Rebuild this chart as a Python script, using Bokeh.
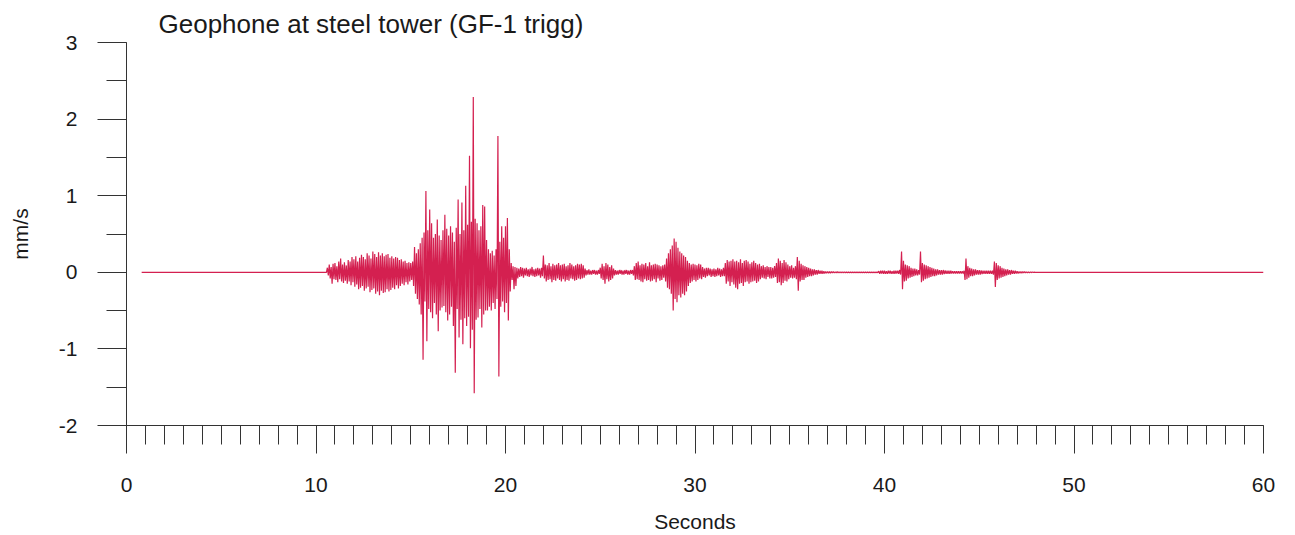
from bokeh.plotting import figure
from bokeh.models import Range1d, SingleIntervalTicker, PrintfTickFormatter
from bokeh.embed import file_html
from bokeh.resources import INLINE

# ---- data (velocity in mm/s) ----
title_text = "Geophone at steel tower (GF-1 trigg)"
x_label = "Seconds"
y_label = "mm/s"

record_start = 0.8     # s, first sample of the record
record_end = 60.0      # s, last sample of the record
trace_t0 = 10.0        # s, start of the detailed samples below
trace_dt = 0.05        # s, spacing of the detailed samples

# one row per second, 20 samples each
onset_10_15 = [
    [0, 0, 0, 0, 0, 0, 0, 0, 0, 0, 0, 0, 0.06, -0.04, 0.10, -0.08, 0.07, -0.15, 0.11, -0.09],
    [0.12, -0.10, 0.08, -0.13, 0.14, -0.09, 0.18, -0.12, 0.10, -0.14, 0.13, -0.11, 0.09, -0.15, 0.16, -0.12, 0.14, -0.17, 0.20, -0.13],
    [0.17, -0.19, 0.21, -0.16, 0.14, -0.22, 0.19, -0.20, 0.23, -0.18, 0.20, -0.24, 0.17, -0.21, 0.25, -0.19, 0.22, -0.26, 0.18, -0.23],
    [0.27, -0.21, 0.24, -0.28, 0.20, -0.25, 0.26, -0.30, 0.22, -0.24, 0.25, -0.27, 0.21, -0.26, 0.23, -0.22, 0.24, -0.25, 0.19, -0.23],
    [0.21, -0.20, 0.18, -0.22, 0.20, -0.17, 0.19, -0.21, 0.16, -0.18, 0.17, -0.15, 0.14, -0.17, 0.15, -0.13, 0.12, -0.16, 0.13, -0.12],
]
burst_15_20 = [
    [0.12, -0.10, 0.14, -0.18, 0.33, -0.28, 0.25, -0.35, 0.30, -0.42, 0.38, -0.55, 0.45, -1.14, 0.52, -0.38, 1.06, -0.90, 0.55, -0.48],
    [0.82, -0.52, 0.64, -0.60, 0.45, -0.40, 0.50, -0.55, 0.69, -0.77, 0.48, -0.50, 0.42, -0.46, 0.55, -0.44, 0.75, -0.52, 0.57, -0.63],
    [0.48, -0.55, 0.60, -0.45, 0.52, -0.70, 0.40, -1.31, 0.58, -0.48, 0.95, -0.85, 0.50, -0.62, 0.91, -0.94, 0.55, -0.60, 1.13, -0.70],
    [0.62, -0.58, 1.52, -0.99, 0.66, -0.75, 2.29, -1.58, 0.70, -0.62, 0.64, -0.59, 0.55, -0.48, 0.60, -0.72, 0.88, -0.55, 0.86, -0.50],
    [0.42, -0.50, 0.30, -0.45, 0.25, -0.50, 0.28, -0.40, 0.22, -0.48, 0.30, -0.35, 1.78, -1.36, 0.40, -0.45, 0.60, -0.38, 0.45, -0.52],
]
coda_20_30 = [
    [0.60, -0.40, 0.71, -0.63, 0.30, -0.25, 0.12, -0.10, 0.08, -0.22, 0.07, -0.18, 0.06, -0.08, 0.05, -0.06, 0.07, -0.05, 0.06, -0.07],
    [0.05, -0.04, 0.06, -0.05, 0.04, -0.06, 0.05, -0.04, 0.07, -0.05, 0.04, -0.06, 0.05, -0.05, 0.06, -0.04, 0.05, -0.07, 0.06, -0.05],
    [0.22, -0.08, 0.10, -0.12, 0.09, -0.10, 0.12, -0.09, 0.08, -0.13, 0.11, -0.10, 0.09, -0.11, 0.10, -0.08, 0.12, -0.10, 0.09, -0.12],
    [0.10, -0.09, 0.11, -0.12, 0.08, -0.10, 0.09, -0.11, 0.12, -0.08, 0.10, -0.09, 0.08, -0.11, 0.09, -0.10, 0.11, -0.08, 0.10, -0.09],
    [0.11, -0.08, 0.09, -0.07, 0.05, -0.04, 0.03, -0.03, 0.04, -0.03, 0.02, -0.03, 0.03, -0.02, 0.03, -0.03, 0.02, -0.03, 0.03, -0.02],
    [0.06, -0.08, 0.11, -0.10, 0.08, -0.15, 0.12, -0.09, 0.10, -0.12, 0.07, -0.10, 0.09, -0.08, 0.05, -0.04, 0.03, -0.03, 0.02, -0.03],
    [0.03, -0.02, 0.03, -0.03, 0.02, -0.03, 0.03, -0.02, 0.03, -0.03, 0.02, -0.03, 0.03, -0.02, 0.03, -0.04, 0.08, -0.10, 0.12, -0.09],
    [0.14, -0.10, 0.09, -0.12, 0.11, -0.13, 0.10, -0.09, 0.12, -0.11, 0.08, -0.10, 0.13, -0.12, 0.09, -0.11, 0.10, -0.09, 0.11, -0.13],
    [0.10, -0.08, 0.09, -0.11, 0.08, -0.10, 0.09, -0.07, 0.10, -0.12, 0.18, -0.20, 0.25, -0.22, 0.30, -0.28, 0.35, -0.50, 0.44, -0.35],
    [0.40, -0.39, 0.32, -0.30, 0.27, -0.33, 0.25, -0.28, 0.22, -0.30, 0.20, -0.25, 0.15, -0.18, 0.12, -0.14, 0.10, -0.12, 0.11, -0.10],
]
coda_30_40 = [
    [0.10, -0.12, 0.09, -0.10, 0.11, -0.08, 0.10, -0.09, 0.07, -0.06, 0.05, -0.07, 0.06, -0.05, 0.06, -0.04, 0.05, -0.06, 0.04, -0.05],
    [0.05, -0.06, 0.04, -0.05, 0.06, -0.04, 0.05, -0.06, 0.04, -0.05, 0.06, -0.05, 0.12, -0.15, 0.16, -0.12, 0.14, -0.18, 0.15, -0.13],
    [0.17, -0.16, 0.14, -0.20, 0.15, -0.22, 0.13, -0.15, 0.17, -0.14, 0.12, -0.18, 0.15, -0.13, 0.16, -0.12, 0.14, -0.15, 0.11, -0.13],
    [0.13, -0.12, 0.15, -0.11, 0.12, -0.14, 0.10, -0.12, 0.11, -0.09, 0.08, -0.07, 0.09, -0.08, 0.07, -0.09, 0.08, -0.06, 0.07, -0.08],
    [0.07, -0.08, 0.06, -0.07, 0.08, -0.06, 0.12, -0.14, 0.18, -0.13, 0.15, -0.17, 0.12, -0.14, 0.16, -0.11, 0.13, -0.12, 0.10, -0.09],
    [0.08, -0.07, 0.09, -0.08, 0.06, -0.07, 0.08, -0.09, 0.20, -0.24, 0.15, -0.12, 0.11, -0.10, 0.09, -0.10, 0.08, -0.07, 0.07, -0.06],
    [0.06, -0.05, 0.05, -0.05, 0.04, -0.04, 0.04, -0.03, 0.03, -0.03, 0.03, -0.02, 0.02, -0.02, 0.02, -0.02, 0.015, -0.015, 0.01, -0.01],
    [0.01, -0.01, 0.008, -0.01, 0.01, -0.008, 0.008, -0.008, 0.006, -0.008, 0.008, -0.006, 0.006, -0.006, 0.006, -0.006, 0.005, -0.006, 0.006, -0.005],
    [0.005, -0.005, 0.005, -0.005, 0.005, -0.005, 0.005, -0.005, 0.005, -0.005, 0.005, -0.005, 0.005, -0.005, 0.005, -0.005, 0.005, -0.005, 0.005, -0.005],
    [0.005, -0.005, 0.005, -0.005, 0.005, -0.005, 0.005, -0.005, 0.005, -0.005, 0.005, -0.005, 0.005, -0.005, 0.015, -0.02, 0.02, -0.015, 0.02, -0.02],
]
events_40_48 = [
    [0.02, -0.02, 0.015, -0.02, 0.02, -0.015, 0.02, -0.02, 0.015, -0.02, 0.02, -0.02, 0.02, -0.015, 0.02, -0.02, 0.03, -0.03, 0.27, -0.22],
    [0.15, -0.12, 0.10, -0.11, 0.09, -0.08, 0.08, -0.07, 0.06, -0.06, 0.05, -0.05, 0.05, -0.04, 0.04, -0.04, 0.03, -0.03, 0.27, -0.13],
    [0.12, -0.11, 0.10, -0.09, 0.09, -0.08, 0.08, -0.07, 0.07, -0.06, 0.06, -0.05, 0.05, -0.05, 0.04, -0.04, 0.04, -0.03, 0.03, -0.03],
    [0.03, -0.03, 0.03, -0.025, 0.025, -0.02, 0.02, -0.02, 0.02, -0.02, 0.02, -0.015, 0.015, -0.015, 0.015, -0.015, 0.015, -0.015, 0.015, -0.015],
    [0.015, -0.015, 0.015, -0.015, 0.02, -0.10, 0.18, -0.09, 0.08, -0.07, 0.06, -0.05, 0.05, -0.05, 0.04, -0.04, 0.04, -0.03, 0.03, -0.03],
    [0.03, -0.03, 0.025, -0.025, 0.02, -0.02, 0.02, -0.02, 0.02, -0.02, 0.02, -0.02, 0.02, -0.02, 0.02, -0.03, 0.14, -0.19, 0.12, -0.10],
    [0.09, -0.08, 0.08, -0.07, 0.06, -0.06, 0.05, -0.05, 0.04, -0.04, 0.04, -0.03, 0.03, -0.03, 0.03, -0.02, 0.02, -0.02, 0.02, -0.015],
    [0.015, -0.015, 0.01, -0.01, 0.01, -0.01, 0.01, -0.008, 0.008, -0.008, 0.006, -0.006, 0.005, -0.005, 0.004, -0.004, 0.003, -0.003, 0.002, 0],
]

x_ticks_major = 10
x_ticks_minor = 10
y_ticks_major = 1
y_ticks_minor = 2

# ---- assemble the trace ----
samples = [v for seg in (onset_10_15, burst_15_20, coda_20_30, coda_30_40, events_40_48)
           for row in seg for v in row]
xs = [record_start] + [trace_t0 + i * trace_dt for i in range(len(samples))] + [record_end]
ys = [0.0] + samples + [0.0]

FONT = "Liberation Sans"
INK = "#1a1a1a"
AX = "#333333"

p = figure(frame_width=1137, frame_height=383,
           x_range=Range1d(0, 60), y_range=Range1d(-2, 3),
           output_backend="svg", toolbar_location=None,
           min_border_left=126, min_border_right=24,
           min_border_top=42, min_border_bottom=104)

p.line(xs, ys, line_color="#d42050", line_width=1.2)

p.outline_line_color = None
p.xgrid.visible = False
p.ygrid.visible = False
p.background_fill_color = "white"
p.border_fill_color = "white"

p.title.text = title_text
p.title.text_font = FONT
p.title.text_font_size = "26px"
p.title.text_font_style = "normal"
p.title.text_color = INK
p.title.align = "left"
p.title.offset = 32
p.title.standoff = 8

xa = p.xaxis[0]
xa.ticker = SingleIntervalTicker(interval=x_ticks_major, num_minor_ticks=x_ticks_minor)
xa.axis_label = x_label
ya = p.yaxis[0]
ya.ticker = SingleIntervalTicker(interval=y_ticks_major, num_minor_ticks=y_ticks_minor)
ya.formatter = PrintfTickFormatter(format="%d")
ya.axis_label = y_label

for ax in (xa, ya):
    ax.axis_line_color = AX
    ax.major_tick_line_color = AX
    ax.minor_tick_line_color = AX
    ax.major_tick_in = 0
    ax.minor_tick_in = 0
    ax.major_label_text_font = FONT
    ax.major_label_text_font_size = "21px"
    ax.major_label_text_color = INK
    ax.axis_label_text_font = FONT
    ax.axis_label_text_font_size = "21px"
    ax.axis_label_text_font_style = "normal"
    ax.axis_label_text_color = INK

xa.major_tick_out = 28
xa.minor_tick_out = 19
xa.major_label_standoff = 24
xa.axis_label_standoff = 15

ya.major_tick_out = 29
ya.minor_tick_out = 20
ya.major_label_standoff = 20
ya.axis_label_standoff = 24

open("out.html", "w").write(file_html(p, INLINE))
